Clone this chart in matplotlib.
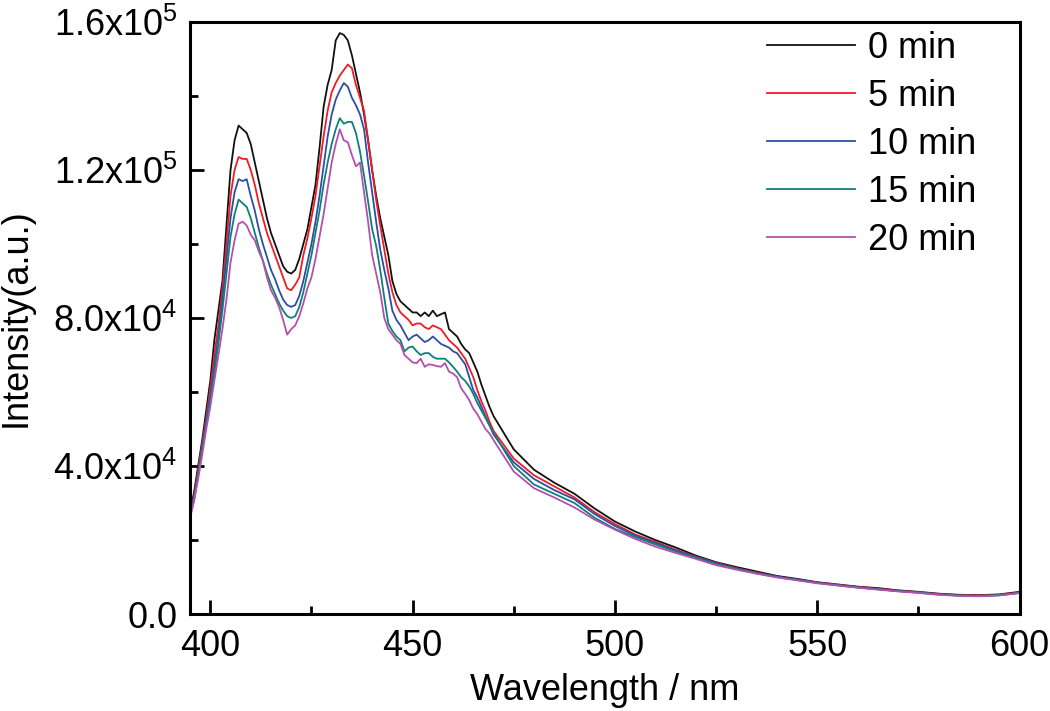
import numpy as np
import matplotlib.pyplot as plt
from matplotlib.ticker import MultipleLocator

plt.rcParams['font.family'] = ['Liberation Sans', 'DejaVu Sans']
plt.rcParams['mathtext.fontset'] = 'custom'
plt.rcParams['mathtext.rm'] = 'Liberation Sans'

# wavelength grid (nm): 1 nm steps to 470, then 5 nm steps
wl = list(range(395, 471)) + list(range(475, 601, 5))

# intensities in units of 1e3 counts
i_0min = [27.5, 33, 40, 47, 55, 63, 74, 82, 90, 105,
          120, 128, 132, 131, 130, 127, 122, 117, 112, 107,
          103, 100, 97, 94, 92.5, 92, 93, 96, 100, 104,
          110, 116, 126, 137, 143, 147, 155, 157, 156.5, 155,
          151, 146, 141, 135, 128, 120, 113, 107, 102, 97,
          90, 86.5, 84.5, 83.5, 82.5, 81.5, 81.5, 80.5, 81.5, 80.5,
          82, 80.5, 81, 81.5, 77, 76, 75, 73, 71.5, 70.5,
          68, 65.5, 62, 59, 56, 53.5,
          44.5, 39, 35.5, 32.5, 28.5, 25, 22.3, 20, 18, 15.8,
          14, 12.7, 11.5, 10.3, 9.5, 8.6, 8, 7.4, 7, 6.4,
          6, 5.5, 5.2, 5.1, 5.3, 6]
i_5min = [27, 32, 39, 46, 53, 61, 70, 78, 88, 100,
          113, 120, 123.5, 123, 123, 120, 116, 111, 107, 103,
          100, 97, 94, 91, 88, 87.5, 89, 91, 97, 101.5,
          107, 113, 121, 129, 136, 141, 143.5, 145.5, 147, 148.5,
          147.5, 143, 139.5, 136, 128, 120, 112, 105, 98.5, 92,
          87, 83.5, 81.5, 80.5, 79.5, 78, 78.5, 78.5, 77.5, 77,
          78, 77.5, 77, 75.5, 74, 73, 72, 70.5, 69, 66.5,
          64, 60.5, 57.5, 55, 52, 49.5,
          42, 37.5, 34.5, 31.5, 27.5, 24.3, 21.5, 19.5, 17.4, 15.5,
          13.8, 12.4, 11.2, 10.1, 9.3, 8.5, 7.9, 7.3, 6.8, 6.3,
          5.9, 5.4, 5.1, 5.0, 5.2, 5.8]
i_10min = [26.5, 31.5, 38, 45, 52, 59, 67, 75, 85, 96,
           107, 114, 117.5, 117, 117.5, 113, 109, 104, 100, 96.5,
           93, 90.5, 87.5, 85, 83.5, 83, 83.5, 86, 90, 95,
           100, 106, 113, 121, 129, 135, 139, 141.5, 143.5, 142.5,
           139.5, 137.5, 135, 131, 122, 114, 106, 98.5, 93, 88,
           82, 79.5, 78, 76, 74, 75, 75.5, 74.5, 73.5, 74,
           75, 74, 73, 72.5, 72, 71, 70.5, 69, 67.5, 64,
           60.5, 58.5, 56, 53.5, 51, 48.5,
           41, 36.5, 33.5, 31, 27, 23.8, 21.2, 19.2, 17.2, 15.4,
           13.7, 12.3, 11.1, 10.1, 9.3, 8.5, 7.8, 7.2, 6.7, 6.2,
           5.8, 5.3, 5.0, 4.9, 5.1, 5.7]
i_15min = [26.5, 31, 37.5, 44.5, 51, 58, 65, 73, 82, 92,
           102, 108, 112, 111, 110, 107, 103, 99, 95.5, 92,
           89, 86.5, 84, 82, 80.5, 80, 80.5, 83, 87, 92,
           97, 103, 109, 116, 122, 127, 131, 134, 132.5, 133,
           133, 130, 125, 118.5, 111.5, 104, 99.5, 93, 85.5, 78.5,
           76.5, 75, 74, 71, 72, 72.3, 71, 70, 70.5, 70.5,
           69.5, 69, 69, 69, 68, 66.8, 65.5, 64, 63, 61.5,
           59.5, 57, 55, 53, 51, 49,
           40, 35, 32.5, 30, 26, 23, 20.8, 18.8, 16.9, 15.2,
           13.5, 12.2, 11.0, 10.0, 9.2, 8.4, 7.8, 7.2, 6.7, 6.2,
           5.8, 5.3, 5.0, 4.9, 5.1, 5.7]
i_20min = [26, 30.5, 36.5, 43, 50, 56, 63, 70, 77, 85,
           95, 101, 105.5, 106, 105, 102.5, 101, 98, 95.5, 91,
           87.5, 85.5, 83, 79.5, 75.5, 77, 78, 80.5, 84, 88,
           91, 96, 102, 108, 115, 122, 127, 131, 128, 127.5,
           124, 121, 122, 114, 106, 97, 92, 87, 80, 77,
           75.5, 74, 73, 70, 69, 68, 67.8, 69, 66.8, 67.5,
           67.3, 67, 66.8, 67.8, 65.5, 65, 64, 61, 59.5, 57.8,
           55.5, 54, 52, 50, 48.8, 47,
           38.5, 34, 31.5, 28.8, 25.5, 22.8, 20.3, 18.2, 16.5, 14.9,
           13.2, 12.0, 10.9, 9.9, 9.1, 8.3, 7.7, 7.1, 6.6, 6.1,
           5.7, 5.2, 4.9, 4.8, 5.0, 5.7]

labels = ['0 min', '5 min', '10 min', '15 min', '20 min']
colors = ['#111111', '#EE1C25', '#2E4DA7', '#0E8078', '#B350AE']

wl = np.array(wl)
series = [i_0min, i_5min, i_10min, i_15min, i_20min]

fig = plt.figure(figsize=(10.5, 7.11), dpi=100)
ax = fig.add_axes([0.181, 0.1364, 0.79, 0.8327])

for vals, lab, c in zip(series, labels, colors):
    ax.plot(wl, np.array(vals) * 1e3, color=c, lw=1.3, label=lab)

ax.set_xlim(395, 600)
ax.set_ylim(0, 1.6e5)

ax.xaxis.set_major_locator(MultipleLocator(50))
ax.xaxis.set_minor_locator(MultipleLocator(25))
ax.yaxis.set_minor_locator(MultipleLocator(2e4))
ax.set_yticks([0, 4e4, 8e4, 1.2e5, 1.6e5])
ax.set_yticklabels(['0.0', r'4.0x10$^4$', r'8.0x10$^4$',
                    r'1.2x10$^5$', r'1.6x10$^5$'])

ax.tick_params(which='both', direction='in', width=2, labelsize=26,
               top=False, right=False)
ax.tick_params(axis='x', which='major', length=10, pad=11)
ax.tick_params(axis='y', which='major', length=10, pad=9)
ax.tick_params(which='minor', length=6)
for s in ax.spines.values():
    s.set_linewidth(2.2)

ax.set_xlabel('Wavelength / nm', fontsize=26, labelpad=6)
ax.set_ylabel('Intensity(a.u.)', fontsize=26, labelpad=14)

ax.legend(loc='upper left', frameon=False, fontsize=26, handlelength=2.45,
          handletextpad=0.35, labelspacing=0.36, borderaxespad=0,
          borderpad=0, bbox_to_anchor=(0.695, 0.985))

fig.savefig('out.png', dpi=100)
